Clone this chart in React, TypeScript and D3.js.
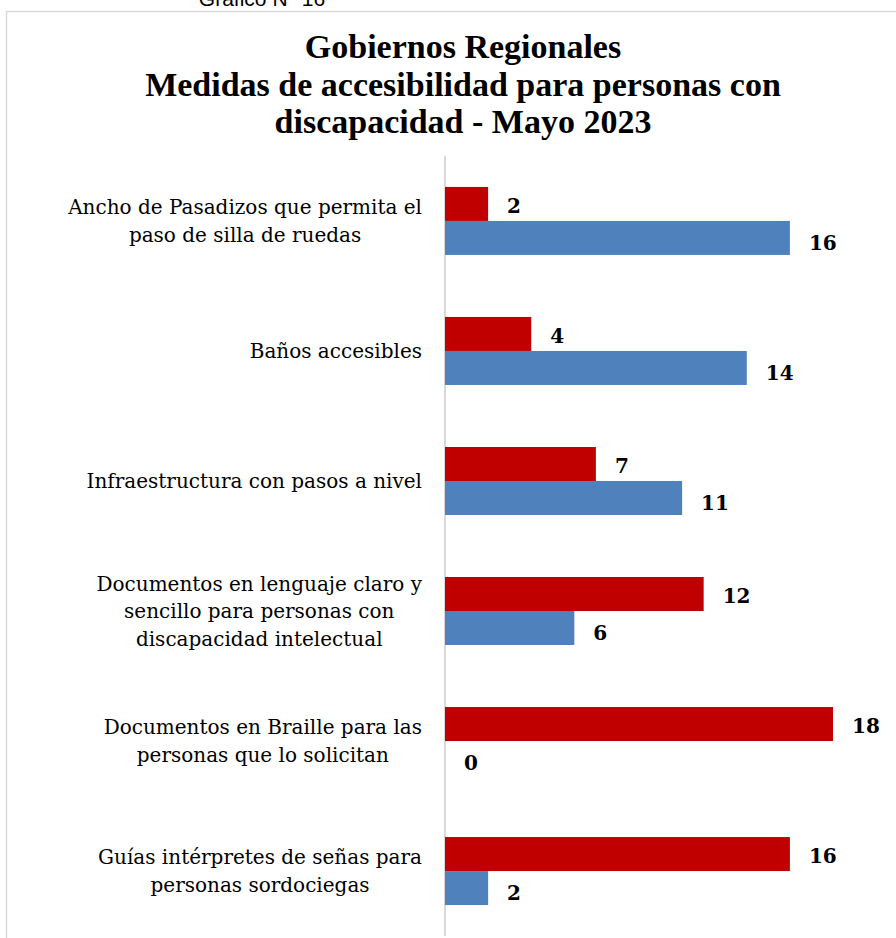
import React from "react";
import * as d3 from "d3";

const categories: string[][] = [
  ["Ancho de Pasadizos que permita el", "paso de silla de ruedas"],
  ["Baños accesibles"],
  ["Infraestructura con pasos a nivel"],
  ["Documentos en lenguaje claro y", "sencillo para personas con", "discapacidad intelectual"],
  ["Documentos en Braille para las", "personas que lo solicitan"],
  ["Guías intérpretes de señas para", "personas sordociegas"],
];
const redValues = [2, 4, 7, 12, 18, 16];
const blueValues = [16, 14, 11, 6, 0, 2];
const seriesKeys = ["red", "blue"];
const seriesColors = ["#C00000", "#4F81BD"];
const titleLines = [
  "Gobiernos Regionales",
  "Medidas de accesibilidad para personas con",
  "discapacidad - Mayo 2023",
];

const W = 896;
const H = 938;
const catFont = '20px "DejaVu Serif"';

function measure(text: string, font: string): number {
  const c = document.createElement("canvas");
  const ctx = c.getContext("2d")!;
  ctx.font = font;
  return ctx.measureText(text).width;
}

export default function App() {
  const ids = categories.map((_, i) => String(i));
  const x = d3.scaleLinear().domain([0, 18]).range([445, 833]);
  const y = d3
    .scaleBand<string>()
    .domain(ids)
    .range([156, 936])
    .paddingInner(0.477)
    .paddingOuter(0.238);
  const ys = d3.scaleBand<string>().domain(seriesKeys).range([0, y.bandwidth()]);
  const data = [redValues, blueValues];
  const labelRight = 422;
  const lineH = 27.5;

  return (
    <svg
      width={W}
      height={H}
      style={{ position: "absolute", left: 0, top: 0, background: "#fff" }}
    >
      <rect x={0} y={0} width={W} height={H} fill="#fff" />
      <text
        x={262}
        y={6}
        textAnchor="middle"
        fontFamily="Liberation Sans"
        fontSize={21}
        fill="#000"
      >
        Gráfico N° 16
      </text>
      <rect x={6.5} y={11.5} width={W} height={H} fill="none" stroke="#d9d9d9" strokeWidth={1.5} />
      {titleLines.map((t, i) => (
        <text
          key={i}
          x={463}
          y={58 + i * 37.5}
          textAnchor="middle"
          fontFamily="Liberation Serif"
          fontWeight="bold"
          fontSize={34}
          fill="#000"
        >
          {t}
        </text>
      ))}
      <line x1={x(0)} x2={x(0)} y1={156} y2={936} stroke="#d9d9d9" strokeWidth={2} />
      {categories.map((lines, i) => {
        const id = String(i);
        const cy = y(id)! + y.bandwidth() / 2;
        const maxW = Math.max(...lines.map((l) => measure(l, catFont)));
        const cx = labelRight - maxW / 2;
        const startY = cy - ((lines.length - 1) * lineH) / 2;
        return (
          <g key={id}>
            {lines.map((l, j) => (
              <text
                key={j}
                x={cx}
                y={startY + j * lineH}
                dy="0.35em"
                textAnchor="middle"
                fontFamily="DejaVu Serif"
                fontSize={20}
                fill="#000"
              >
                {l}
              </text>
            ))}
            {seriesKeys.map((k, s) => {
              const v = data[s][i];
              const by = y(id)! + ys(k)!;
              return (
                <g key={k}>
                  <rect
                    x={x(0)}
                    y={by}
                    width={x(v) - x(0)}
                    height={ys.bandwidth()}
                    fill={seriesColors[s]}
                  />
                  <text
                    x={x(v) + 19}
                    y={by + ys.bandwidth() / 2 + (s === 0 ? 2 : 5)}
                    dy="0.35em"
                    fontFamily="DejaVu Serif"
                    fontWeight="bold"
                    fontSize={20}
                    fill="#000"
                  >
                    {v}
                  </text>
                </g>
              );
            })}
          </g>
        );
      })}
    </svg>
  );
}
